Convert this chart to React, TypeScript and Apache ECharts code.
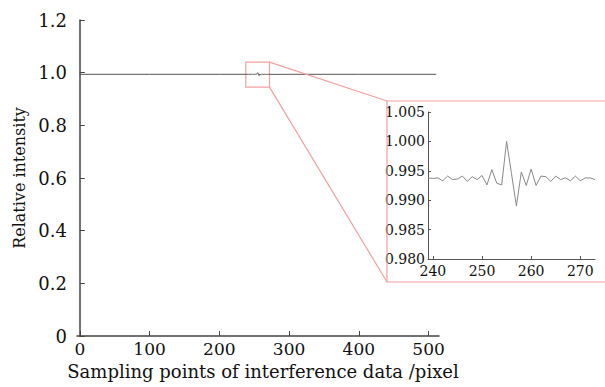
import React, { useEffect, useRef } from "react";
import * as echarts from "echarts";

// Zoomed region (sampling points 239..273)
const insetX = [239, 240, 241, 242, 243, 244, 245, 246, 247, 248, 249, 250, 251, 252, 253, 254, 255, 256, 257, 258, 259, 260, 261, 262, 263, 264, 265, 266, 267, 268, 269, 270, 271, 272, 273];
const insetY = [0.9938, 0.9937, 0.9938, 0.9933, 0.9941, 0.9935, 0.9936, 0.9941, 0.9932, 0.994, 0.9935, 0.9942, 0.9926, 0.9952, 0.9929, 0.9926, 1.0, 0.9945, 0.989, 0.9948, 0.9925, 0.9953, 0.9925, 0.9941, 0.994, 0.9932, 0.9941, 0.9935, 0.9938, 0.9933, 0.9941, 0.9933, 0.9938, 0.9938, 0.9935];
// Flat parts of the full profile outside the zoomed region
const headX = [0, 100, 200, 238];
const headY = [0.9937, 0.9937, 0.9937, 0.9937];
const tailX = [274, 300, 400, 511];
const tailY = [0.9936, 0.9937, 0.9937, 0.9937];

const mainXTicks = [0, 100, 200, 300, 400, 500];
const insetXTicks = [240, 250, 260, 270];
const zoomBoxX = [238, 272];
const zoomBoxY = [0.945, 1.04];

const PINK = "#f3a0a0";
const FONT = "'DejaVu Serif', 'Liberation Serif', serif";

export default function App() {
  const ref = useRef<HTMLDivElement>(null);
  useEffect(() => {
    if (!ref.current) return;
    const chart = echarts.init(ref.current, null, { renderer: "svg" });
    const mainData = [
      ...headX.map((x, i) => [x, headY[i]]),
      ...insetX.map((x, i) => [x, insetY[i]]),
      ...tailX.map((x, i) => [x, tailY[i]]),
    ];
    const insetData = insetX.map((x, i) => [x, insetY[i]]);
    const axisLine = { show: true, lineStyle: { color: "#444", width: 1.5 } };
    const insetAxisLine = { show: true, lineStyle: { color: "#555", width: 1 } };
    const insetBox = { left: 387, top: 101, width: 230, height: 181 };
    chart.setOption({
      animation: false,
      backgroundColor: "#fff",
      textStyle: { fontFamily: FONT },
      grid: [
        { left: 77, top: 20, right: 166, bottom: 51 },
        { left: 428, top: 112, right: 10, bottom: 128 },
      ],
      xAxis: [
        {
          type: "value", gridIndex: 0, min: -4, max: 515,
          splitLine: { show: false }, axisLine,
          axisTick: { show: true, inside: true, length: 5, customValues: mainXTicks, lineStyle: { color: "#444" } },
          axisLabel: { customValues: mainXTicks, color: "#111", fontSize: 17, fontFamily: FONT, margin: 4 },
          name: "Sampling points of interference data /pixel", nameLocation: "middle", nameGap: 26,
          nameTextStyle: { fontSize: 18, color: "#111", fontFamily: FONT, padding: [0, 0, 0, 10] },
        },
        {
          type: "value", gridIndex: 1, min: 239, max: 273,
          splitLine: { show: false }, axisLine: insetAxisLine,
          axisTick: { show: true, inside: true, length: 3, customValues: insetXTicks, lineStyle: { color: "#555" } },
          axisLabel: { customValues: insetXTicks, color: "#111", fontSize: 14, fontFamily: FONT, margin: 5 },
        },
      ],
      yAxis: [
        {
          type: "value", gridIndex: 0, min: 0, max: 1.2, interval: 0.2,
          splitLine: { show: false }, axisLine,
          axisTick: { show: true, inside: true, length: 5, lineStyle: { color: "#444" } },
          axisLabel: { color: "#111", fontSize: 18, fontFamily: FONT, margin: 10, formatter: (v: number) => (v === 0 ? "0" : v.toFixed(1)) },
          name: "Relative intensity", nameLocation: "middle", nameGap: 48,
          nameTextStyle: { fontSize: 16, color: "#111", fontFamily: FONT },
        },
        {
          type: "value", gridIndex: 1, min: 0.98, max: 1.005, interval: 0.005,
          splitLine: { show: false }, axisLine: insetAxisLine,
          axisTick: { show: true, inside: true, length: 3, lineStyle: { color: "#555" } },
          axisLabel: { color: "#111", fontSize: 14, fontFamily: FONT, margin: 3, formatter: (v: number) => v.toFixed(3) },
        },
      ],
      series: [
        {
          type: "line", xAxisIndex: 0, yAxisIndex: 0, data: mainData, showSymbol: false,
          lineStyle: { color: "#555", width: 1 },
          markArea: {
            silent: true,
            itemStyle: { color: "rgba(0,0,0,0)", borderColor: PINK, borderWidth: 1.2 },
            data: [[{ coord: [zoomBoxX[0], zoomBoxY[1]] }, { coord: [zoomBoxX[1], zoomBoxY[0]] }]],
          },
        },
        {
          type: "line", xAxisIndex: 1, yAxisIndex: 1, data: insetData, showSymbol: false,
          lineStyle: { color: "#888", width: 1 },
        },
      ],
    });
    const pTop = chart.convertToPixel({ gridIndex: 0 }, [zoomBoxX[1], zoomBoxY[1]]) as number[];
    const pBot = chart.convertToPixel({ gridIndex: 0 }, [zoomBoxX[1], zoomBoxY[0]]) as number[];
    chart.setOption({
      graphic: [
        { type: "rect", shape: { x: insetBox.left, y: insetBox.top, width: insetBox.width, height: insetBox.height }, style: { fill: "none", stroke: PINK, lineWidth: 1.2 }, z: 10 },
        { type: "line", shape: { x1: pTop[0], y1: pTop[1], x2: insetBox.left, y2: insetBox.top }, style: { stroke: PINK, lineWidth: 1.2 }, z: 10 },
        { type: "line", shape: { x1: pBot[0], y1: pBot[1], x2: insetBox.left, y2: insetBox.top + insetBox.height }, style: { stroke: PINK, lineWidth: 1.2 }, z: 10 },
      ],
    });
    return () => chart.dispose();
  }, []);
  return <div ref={ref} style={{ width: 605, height: 387, position: "absolute", left: 0, top: 0 }} />;
}
